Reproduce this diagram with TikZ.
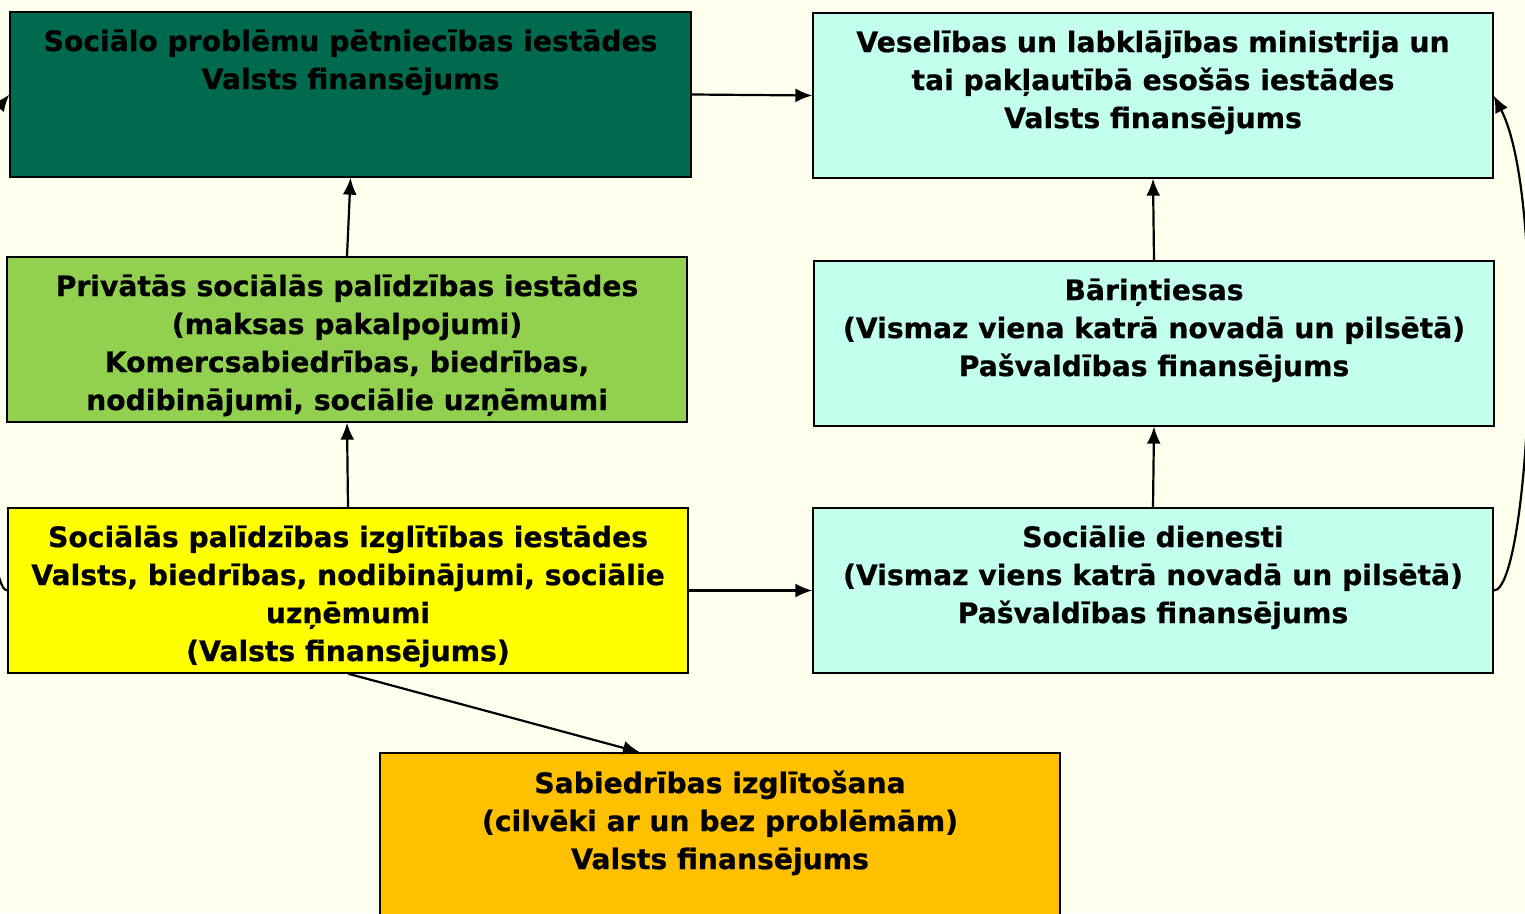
\documentclass[tikz,border=0pt]{standalone}
\usepackage{fontspec}
\setmainfont{DejaVu Sans}[BoldFeatures={FakeBold=0.6}]
\usetikzlibrary{arrows.meta,calc}
\definecolor{bgcream}{HTML}{FFFFEE}
\definecolor{darkgreen}{HTML}{006A4E}
\definecolor{lightaqua}{HTML}{C2FFEC}
\definecolor{leafgreen}{HTML}{92D050}
\definecolor{brightyellow}{HTML}{FFFF00}
\definecolor{amber}{HTML}{FFC000}
\tikzset{
	box/.style={draw, line width=1.3pt, rectangle, inner sep=0pt, minimum width=680pt, minimum height=165pt},
	boxtext/.style={anchor=north, inner sep=0pt, align=center, font=\fontsize{28.2}{38}\selectfont\bfseries},
	link/.style={line width=2.2pt, -{Latex[length=17pt,width=14pt]}}
}

\begin{document}
\begin{tikzpicture}[x=1pt,y=-1pt]
		%%%%% START %%%%%
		
		\fill[bgcream] (0, 0) rectangle (1525, 913);
		\useasboundingbox (0, 0) rectangle (1525, 913);
		
		\node[box, fill=darkgreen, minimum width=681pt] (petn) at (350.5, 94.5) {};
		\node[boxtext] (petnText) at ($(petn.north)+(0,18)$) {Sociālo problēmu pētniecības iestādes\\Valsts finansējums};
		
		\node[box, fill=lightaqua] (min) at (1153, 95.5) {};
		\node[boxtext] (minText) at ($(min.north)+(0,18)$) {Veselības un labklājības ministrija un\\tai pakļautībā esošās iestādes\\Valsts finansējums};
		
		\node[box, fill=leafgreen] (priv) at (347, 339.5) {};
		\node[boxtext] (privText) at ($(priv.north)+(0,18)$) {Privātās sociālās palīdzības iestādes\\(maksas pakalpojumi)\\Komercsabiedrības, biedrības,\\nodibinājumi, sociālie uzņēmumi};
		
		\node[box, fill=lightaqua] (bar) at (1154, 343.5) {};
		\node[boxtext] (barText) at ($(bar.north)+(0,18)$) {Bāriņtiesas\\(Vismaz viena katrā novadā un pilsētā)\\Pašvaldības finansējums};
		
		\node[box, fill=brightyellow] (izgl) at (348, 590.5) {};
		\node[boxtext] (izglText) at ($(izgl.north)+(0,18)$) {Sociālās palīdzības izglītības iestādes\\Valsts, biedrības, nodibinājumi, sociālie\\uzņēmumi\\(Valsts finansējums)};
		
		\node[box, fill=lightaqua] (dien) at (1153, 590.5) {};
		\node[boxtext] (dienText) at ($(dien.north)+(0,18)$) {Sociālie dienesti\\(Vismaz viens katrā novadā un pilsētā)\\Pašvaldības finansējums};
		
		\node[box, fill=amber, minimum height=167pt] (sab) at (720, 836.5) {};
		\node[boxtext] (sabText) at ($(sab.north)+(0,18)$) {Sabiedrības izglītošana\\(cilvēki ar un bez problēmām)\\Valsts finansējums};
		
		\draw[link] (petn.east) -- (min.west);
		\draw[link] (priv.north) -- (petn.south);
		\draw[link] (izgl.north) -- (priv.south);
		\draw[link] (bar.north) -- (min.south);
		\draw[link] (dien.north) -- (bar.south);
		\draw[link] (izgl.east) -- (dien.west);
		\draw[link] (izgl.south) -- ($(sab.north)+(-80,0)$);
		
		\draw[link] (dien.east) .. controls (1530, 591) and (1548, 200) .. (min.east);
		\draw[link] (izgl.west) .. controls (-22, 591) and (-28, 140) .. (petn.west);
		
		%%%%% END %%%%%
	\end{tikzpicture}
\end{document}
